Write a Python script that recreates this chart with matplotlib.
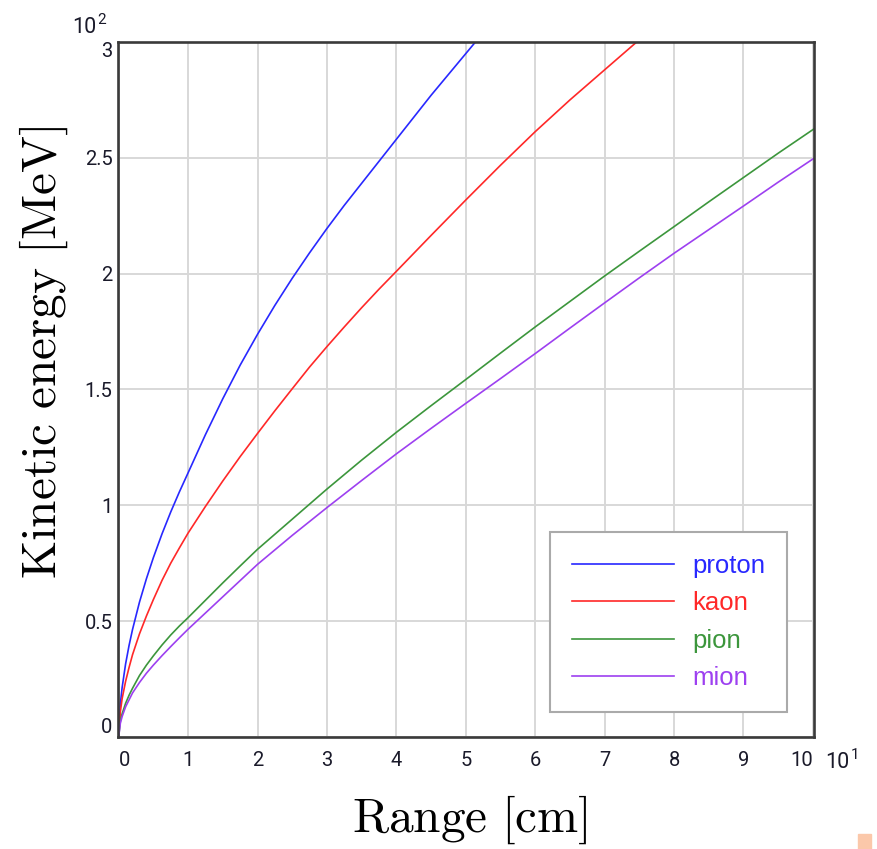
import matplotlib.pyplot as plt
from matplotlib.patches import Rectangle

# range in units of 10 cm, kinetic energy in units of 100 MeV
proton_x = [0, 0.025, 0.05, 0.1, 0.15, 0.2, 0.3, 0.4, 0.5, 0.625, 0.75, 0.875, 1,
            1.25, 1.5, 1.75, 2, 2.25, 2.5, 2.75, 3, 3.25, 3.5, 3.75, 4, 4.25, 4.5, 4.75, 5, 5.25]
proton_y = [0, 0.145, 0.213, 0.315, 0.395, 0.464, 0.582, 0.683, 0.774, 0.877, 0.971, 1.058, 1.14,
            1.305, 1.46, 1.605, 1.738, 1.863, 1.98, 2.09, 2.195, 2.295, 2.39, 2.485, 2.58, 2.675, 2.77, 2.86, 2.95, 3.04]

kaon_x = [0, 0.025, 0.05, 0.1, 0.15, 0.2, 0.3, 0.4, 0.5, 0.625, 0.75, 0.875, 1,
          1.25, 1.5, 1.75, 2, 2.25, 2.5, 2.75, 3, 3.25, 3.5, 3.75, 4, 4.5, 5, 5.5, 6, 6.5, 7, 7.5]
kaon_y = [0, 0.11, 0.165, 0.24, 0.3, 0.355, 0.445, 0.522, 0.593, 0.676, 0.75, 0.816, 0.88,
          0.995, 1.105, 1.21, 1.31, 1.408, 1.503, 1.597, 1.685, 1.77, 1.853, 1.933, 2.01, 2.165, 2.318, 2.468, 2.613, 2.75, 2.88, 3.01]

pion_x = [0, 0.025, 0.05, 0.1, 0.15, 0.2, 0.3, 0.4, 0.5, 0.625, 0.75, 0.875, 1,
          1.25, 1.5, 1.75, 2, 2.5, 3, 3.5, 4, 4.5, 5, 5.5, 6, 6.5, 7, 7.5, 8, 8.5, 9, 9.5, 10.05]
pion_y = [0, 0.07, 0.1, 0.145, 0.18, 0.21, 0.265, 0.31, 0.35, 0.397, 0.44, 0.479, 0.515,
          0.59, 0.665, 0.738, 0.81, 0.94, 1.07, 1.195, 1.315, 1.43, 1.543, 1.657, 1.77, 1.88, 1.99, 2.097, 2.203, 2.31, 2.415, 2.52, 2.632]

mion_x = [0, 0.025, 0.05, 0.1, 0.15, 0.2, 0.3, 0.4, 0.5, 0.625, 0.75, 0.875, 1,
          1.25, 1.5, 1.75, 2, 2.5, 3, 3.5, 4, 4.5, 5, 5.5, 6, 6.5, 7, 7.5, 8, 8.5, 9, 9.5, 10.05]
mion_y = [0, 0.06, 0.088, 0.13, 0.16, 0.19, 0.235, 0.275, 0.31, 0.351, 0.39, 0.428, 0.465,
          0.535, 0.605, 0.675, 0.745, 0.87, 0.99, 1.107, 1.222, 1.332, 1.44, 1.547, 1.655, 1.765, 1.874, 1.982, 2.088, 2.19, 2.292, 2.395, 2.505]

names = ["proton", "kaon", "pion", "mion"]
colors = ["#2828ff", "#ff2828", "#3c963c", "#9d40f0"]

xticks = list(range(0, 11))
yticks = [0, 0.5, 1, 1.5, 2, 2.5, 3]
ytick_labels = ["0", "0.5", "1", "1.5", "2", "2.5", "3"]

plt.rcParams["mathtext.fontset"] = "cm"

fig = plt.figure(figsize=(8.77, 8.49), dpi=100)
ax = fig.add_axes([0.1345, 0.132, 0.794, 0.8185])

series = [(proton_x, proton_y), (kaon_x, kaon_y), (pion_x, pion_y), (mion_x, mion_y)]
for (x, y), name, c in zip(series, names, colors):
    ax.plot(x, y, color=c, lw=1.2, label=name)

ax.set_xlim(-0.01, 10.02)
ax.set_ylim(0, 3)
ax.set_xticks(xticks)
ax.set_xticklabels([str(t) for t in xticks])
ax.set_yticks(yticks)
ax.set_yticklabels(ytick_labels)
ax.grid(True, color="#d8d8d8", lw=1.4)
ax.set_axisbelow(True)
ax.tick_params(length=0, labelsize=14.5, labelcolor="#1a1a2a")
ax.tick_params(axis="x", pad=10)
ax.tick_params(axis="y", pad=4)
for lab in ax.get_xticklabels() + ax.get_yticklabels():
    lab.set_fontfamily("Roboto")

# keep the end labels inside the frame
xl = ax.get_xticklabels()
xl[0].set_ha("left")
xl[-1].set_ha("right")
yl = ax.get_yticklabels()
yl[0].set_va("bottom")
yl[-1].set_va("top")

for s in ax.spines.values():
    s.set_color("#3a3a3a")
    s.set_linewidth(1.9)

leg = ax.legend(loc="lower right", bbox_to_anchor=(0.961, 0.036), fancybox=False,
                framealpha=1, edgecolor="#aaaaaa", handlelength=4.0, handletextpad=0.7,
                borderpad=0.85, labelspacing=0.52, borderaxespad=0,
                prop={"family": "Liberation Sans", "size": 18.5})
leg.get_frame().set_linewidth(1.5)
for txt, c in zip(leg.get_texts(), colors):
    txt.set_color(c)

# axis multipliers
fig.text(0.082, 0.961, "10", family="Roboto", fontsize=15.5, color="#1a1a2a")
fig.text(0.111, 0.972, "2", family="Roboto", fontsize=11, color="#1a1a2a")
fig.text(0.941, 0.0954, "10", family="Roboto", fontsize=15.5, color="#1a1a2a")
fig.text(0.9705, 0.1065, "1", family="Roboto", fontsize=11, color="#1a1a2a")

fig.text(0.536, 0.034, r"$\mathrm{Range\ [cm]}$", ha="center", va="center", fontsize=35.5)
fig.text(0.05, 0.585, r"$\mathrm{Kinetic\ energy\ [MeV]}$", ha="center", va="center",
         rotation=90, fontsize=35.5)

fig.patches.append(Rectangle((0.978, 0.0), 0.015, 0.018, transform=fig.transFigure,
                             color="#fbc8aa", figure=fig))

fig.savefig("out.png", dpi=100)
